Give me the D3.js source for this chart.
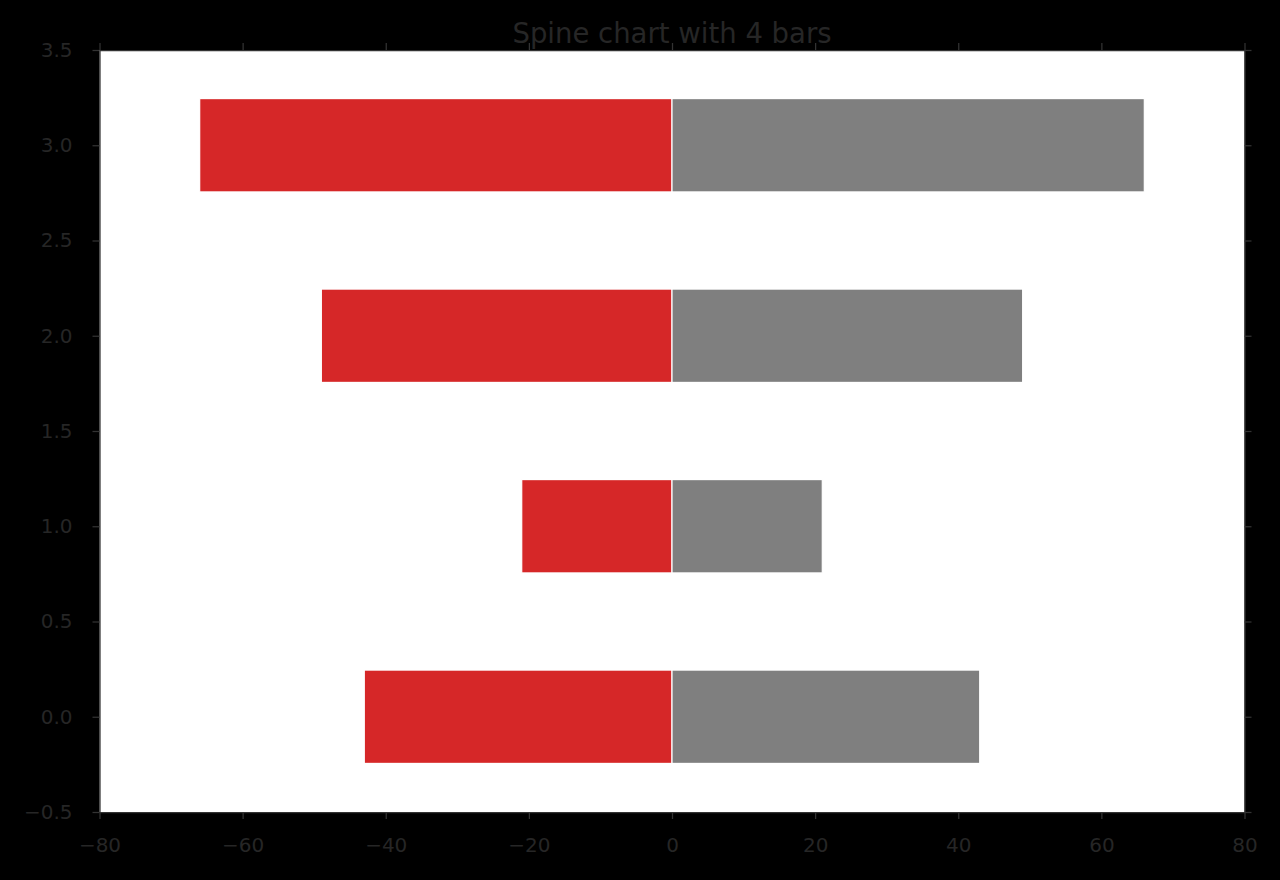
<!DOCTYPE html>
<meta charset="utf-8">
<head>
    <title>Spine chart with 4 bars</title>
</head>
<script src="https://d3js.org/d3.v7.min.js"></script>
<style>
  body { margin: 0; background: #000; }
  text { font-family: "DejaVu Sans", sans-serif; fill: #262626; }
</style>
<div id="my_dataviz"></div>
<script>

// bar positions and values (left side = negative of right side)
var positions = [0, 1, 2, 3];
var leftValues = [-43, -21, -49, -66];
var rightValues = [43, 21, 49, 66];
var xTicks = [-80, -60, -40, -20, 0, 20, 40, 60, 80];
var yTicks = [-0.5, 0.0, 0.5, 1.0, 1.5, 2.0, 2.5, 3.0, 3.5];

var width = 1280,
    height = 880;
var margin = {top: 50, right: 35.5, bottom: 68, left: 99.5};

var svg = d3.select("#my_dataviz")
  .append("svg")
    .attr("width", width)
    .attr("height", height);

var xScale = d3.scaleLinear()
    .domain([-80, 80])
    .range([margin.left, width - margin.right]);

var yScale = d3.scaleLinear()
    .domain([-0.5, 3.5])
    .range([height - margin.bottom, margin.top]);

var barHeight = 0.49;

// white plot area
svg.append("rect")
    .attr("x", xScale(-80))
    .attr("y", yScale(3.5))
    .attr("width", xScale(80) - xScale(-80))
    .attr("height", yScale(-0.5) - yScale(3.5))
    .attr("fill", "white");

// left (red) bars
svg.selectAll(".left")
    .data(positions)
    .enter()
    .append("rect")
    .attr("class", "left")
    .attr("x", function(d, i) { return xScale(leftValues[i]); })
    .attr("y", function(d) { return yScale(d + barHeight / 2); })
    .attr("width", function(d, i) { return xScale(0) - xScale(leftValues[i]); })
    .attr("height", function(d) { return yScale(d - barHeight / 2) - yScale(d + barHeight / 2); })
    .attr("fill", "#d62728")
    .attr("stroke", "white")
    .attr("stroke-width", 1.2);

// right (grey) bars
svg.selectAll(".right")
    .data(positions)
    .enter()
    .append("rect")
    .attr("class", "right")
    .attr("x", xScale(0))
    .attr("y", function(d) { return yScale(d + barHeight / 2); })
    .attr("width", function(d, i) { return xScale(rightValues[i]) - xScale(0); })
    .attr("height", function(d) { return yScale(d - barHeight / 2) - yScale(d + barHeight / 2); })
    .attr("fill", "#7f7f7f")
    .attr("stroke", "white")
    .attr("stroke-width", 1.2);

// axes on all four sides, ticks pointing out
function styleAxis(g) {
  g.select(".domain").attr("stroke", "#333").attr("stroke-width", 1.25);
  g.selectAll(".tick line").attr("stroke", "#333").attr("stroke-width", 1.25);
  g.selectAll(".tick text")
    .style("font-family", "DejaVu Sans, sans-serif")
    .style("font-size", "20px")
    .attr("fill", "#262626");
}

var fmtX = function(d) { return d3.format("")(d).replace("-", "\u2212"); };
var fmtY = function(d) { return d3.format(".1f")(d).replace("-", "\u2212"); };

svg.append("g")
    .attr("transform", "translate(0," + yScale(-0.5) + ")")
    .call(d3.axisBottom(xScale).tickValues(xTicks).tickFormat(fmtX).tickSize(7).tickSizeOuter(0).tickPadding(19))
    .call(styleAxis);

svg.append("g")
    .attr("transform", "translate(0," + yScale(3.5) + ")")
    .call(d3.axisTop(xScale).tickValues(xTicks).tickFormat("").tickSize(7).tickSizeOuter(0))
    .call(styleAxis);

svg.append("g")
    .attr("transform", "translate(" + xScale(-80) + ",0)")
    .call(d3.axisLeft(yScale).tickValues(yTicks).tickFormat(fmtY).tickSize(7).tickSizeOuter(0).tickPadding(20))
    .call(styleAxis);

svg.append("g")
    .attr("transform", "translate(" + xScale(80) + ",0)")
    .call(d3.axisRight(yScale).tickValues(yTicks).tickFormat("").tickSize(7).tickSizeOuter(0))
    .call(styleAxis);

// title
svg.append("text")
    .attr("x", (xScale(-80) + xScale(80)) / 2)
    .attr("y", 43)
    .attr("text-anchor", "middle")
    .style("font-size", "27.5px")
    .text("Spine chart with 4 bars");

</script>
